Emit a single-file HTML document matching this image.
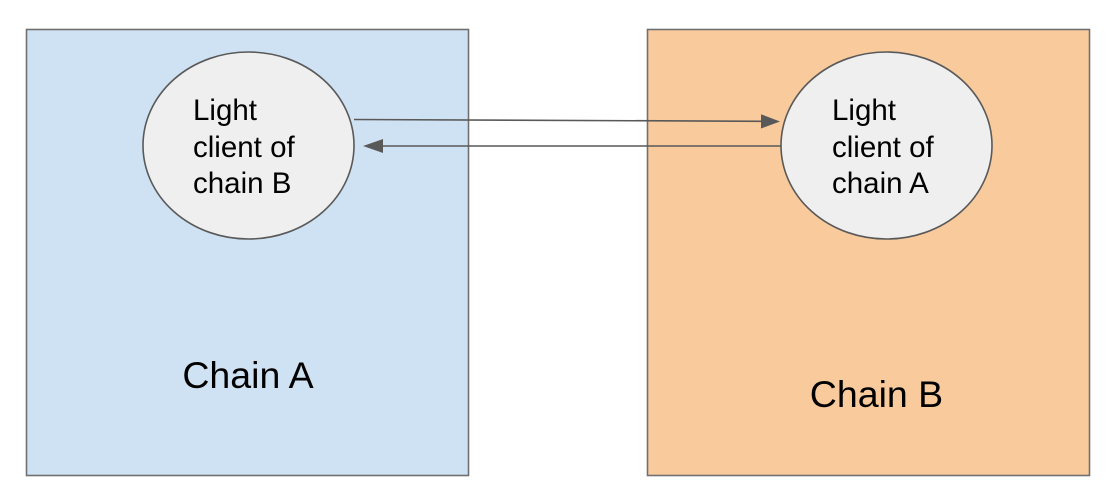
<!DOCTYPE html>
<html>
<head>
<meta charset="utf-8">
<style>
  html, body { margin: 0; padding: 0; background: #ffffff; }
  body { width: 1114px; height: 496px; overflow: hidden; }
  svg { display: block; }
  text { font-family: "Liberation Sans", Arial, sans-serif; fill: #000; }
</style>
</head>
<body>
<svg width="1114" height="496" viewBox="0 0 1114 496" xmlns="http://www.w3.org/2000/svg">
  <!-- Chain A box -->
  <rect x="26.5" y="29.5" width="442" height="446" fill="#cfe2f3" stroke="#707070" stroke-width="1.6"/>
  <!-- Chain B box -->
  <rect x="647.5" y="29.5" width="442" height="446" fill="#f9cb9c" stroke="#707070" stroke-width="1.6"/>

  <!-- Ellipses -->
  <ellipse cx="248.5" cy="145.5" rx="105.5" ry="93.5" fill="#efefef" stroke="#595959" stroke-width="1.6"/>
  <ellipse cx="886.5" cy="145.5" rx="105.5" ry="93.5" fill="#efefef" stroke="#595959" stroke-width="1.6"/>

  <!-- Upper arrow: A -> B -->
  <line x1="354" y1="119.5" x2="763" y2="121.3" stroke="#595959" stroke-width="1.6"/>
  <polygon points="761,114.3 780,121.5 761,128.5" fill="#595959"/>

  <!-- Lower arrow: B -> A -->
  <line x1="781" y1="146" x2="381" y2="146" stroke="#595959" stroke-width="1.6"/>
  <polygon points="383,139 363,146 383,153" fill="#595959"/>

  <!-- Ellipse labels -->
  <text font-size="29.5" x="193" y="120">Light</text>
  <text font-size="29.5" x="193" y="157">client of</text>
  <text font-size="29.5" x="193" y="193">chain B</text>

  <text font-size="29.5" x="832" y="120">Light</text>
  <text font-size="29.5" x="832" y="157">client of</text>
  <text font-size="29.5" x="832" y="193">chain A</text>

  <!-- Box labels -->
  <text font-size="37.5" x="248" y="388" text-anchor="middle">Chain A</text>
  <text font-size="37.5" x="876.5" y="407" text-anchor="middle">Chain B</text>
</svg>
</body>
</html>
